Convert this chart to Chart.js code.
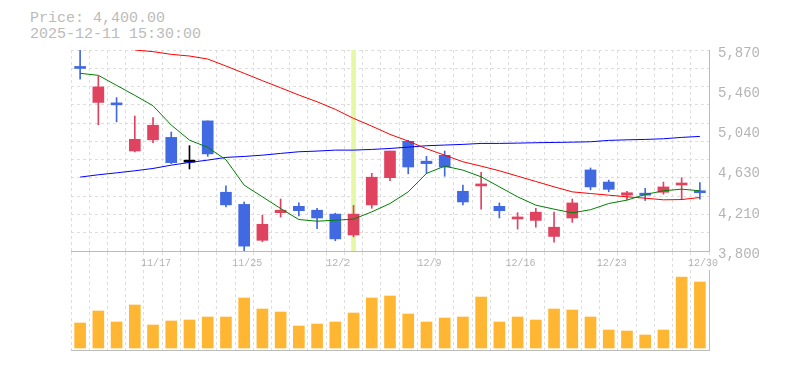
<!DOCTYPE html>
<html>
<head>
<meta charset="utf-8">
<script src="https://cdn.jsdelivr.net/npm/chart.js@4.4.1/dist/chart.umd.min.js"></script>
<style>
  html, body { margin: 0; padding: 0; background: #fff; }
  body { width: 785px; height: 370px; position: relative; overflow: hidden; }
  #info { position: absolute; left: 30px; top: 11px; font: 15px/15.5px "Liberation Mono", monospace; color: #bbb; white-space: pre; }
  #canvasPrice { position: absolute; left: 0; top: 0; }
  #canvasVol { position: absolute; left: 0; top: 270px; }
</style>
</head>
<body>
<div id="info">Price: 4,400.00
2025-12-11 15:30:00</div>
<canvas id="canvasPrice" width="785" height="272"></canvas>
<canvas id="canvasVol" width="785" height="100"></canvas>
<script>
// données du graphique
const dates = ['11/11','11/12','11/13','11/14','11/17','11/18','11/19','11/20','11/21','11/25',
  '11/26','11/27','11/28','12/1','12/2','12/3','12/4','12/5','12/8','12/9',
  '12/10','12/11','12/12','12/15','12/16','12/17','12/18','12/19','12/22','12/23',
  '12/24','12/25','12/26','12/29','12/30'];
const dateTicks = ['11/17','11/25','12/2','12/9','12/16','12/23','12/30'];
const priceTicks = [3800, 4210, 4630, 5040, 5460, 5870];

const open  = [5695,5330,5320,4830,4945,4970,4715,5140,4405,4280,3910,4195,4260,4220,4180,3965,4275,4555,4930,4725,4785,4415,4470,4260,4130,4115,3950,4140,4635,4510,4375,4390,4405,4480,4420];
const high  = [5870,5600,5380,5190,5175,5025,4885,5140,4470,4305,4170,4335,4295,4240,4190,4270,4600,4830,4940,4775,4830,4480,4610,4295,4195,4240,4200,4335,4655,4530,4415,4445,4510,4555,4505];
const low   = [5570,5100,5130,4820,4915,4700,4645,4775,4255,3800,3895,4150,4160,4030,3905,3945,4240,4525,4595,4600,4570,4275,4230,4140,4025,4045,3890,4095,4430,4410,4325,4320,4385,4330,4335];
const close = [5680,5490,5305,4950,5095,4710,4715,4800,4275,3850,4075,4220,4215,4140,3925,4180,4560,4830,4665,4700,4665,4305,4490,4215,4150,4200,4045,4295,4460,4435,4400,4375,4460,4500,4400];

const ma5  = [5630,5609,5506,5403,5296,5097,4942,4867,4740,4478,4358,4238,4124,4107,4117,4128,4203,4289,4409,4599,4674,4633,4564,4461,4358,4272,4231,4193,4225,4289,4324,4382,4420,4437,4420];
const ma25 = [null,null,null,5870,5853,5825,5808,5777,5705,5630,5554,5481,5406,5337,5259,5166,5086,5001,4932,4853,4787,4719,4674,4626,4571,4516,4461,4409,4392,4375,4358,4344,4327,4330,4351];
const ma75 = [4561,4585,4605,4626,4650,4684,4712,4736,4764,4774,4787,4805,4822,4829,4839,4839,4846,4856,4870,4884,4891,4898,4908,4908,4911,4915,4918,4921,4925,4939,4945,4949,4956,4970,4980];

// volume en milliers d'actions
const volume = [125,185,130,215,115,135,140,155,155,250,195,180,110,120,130,175,250,260,170,130,150,155,255,130,155,140,195,190,155,90,85,65,90,355,330];

const cursorIndex = 15;
const priceMin = 3800, priceMax = 5870;

const RED = '#e04360', BLUE = '#4169e1';
const GRID = '#dddddd', AXIS = '#bbbbbb', TEXT = '#b4b4b4';
const MONO = "'Liberation Mono', monospace";

const candleColors = dates.map((d, i) => close[i] > open[i] ? RED : (close[i] < open[i] ? BLUE : '#000000'));

const chartPrice = new Chart(document.getElementById('canvasPrice'), {
    type: 'bar',
    data: {
        labels: dates,
        datasets: [
            { type: 'line', label: 'MA5', data: ma5, borderColor: 'green', borderWidth: 1, pointRadius: 0, order: 0 },
            { type: 'line', label: 'MA25', data: ma25, borderColor: 'red', borderWidth: 1, pointRadius: 0, order: 0 },
            { type: 'line', label: 'MA75', data: ma75, borderColor: 'blue', borderWidth: 1, pointRadius: 0, order: 0 },
            { label: 'body', data: dates.map((d, i) => [open[i], close[i]]), backgroundColor: candleColors,
              barThickness: 11, minBarLength: 2, grouped: false, order: 1 },
            { label: 'wick', data: dates.map((d, i) => [low[i], high[i]]), backgroundColor: candleColors,
              barThickness: 1, grouped: false, order: 2 },
            { label: 'cursor', data: dates.map((d, i) => i === cursorIndex ? [priceMin, priceMax] : null),
              backgroundColor: '#e6f7a6', barThickness: 4, grouped: false, order: 3 }
        ]
    },
    options: {
        responsive: false,
        animation: false,
        events: [],
        layout: { padding: { left: 71, top: 50, right: 0, bottom: 0 } },
        plugins: { legend: { display: false }, tooltip: { enabled: false } },
        scales: {
            x: {
                offset: true,
                grid: { offset: true, color: GRID, tickLength: 20, tickColor: GRID, tickBorderDash: [3, 3] },
                border: { color: AXIS, dash: [3, 3] },
                ticks: {
                    autoSkip: false, maxRotation: 0, color: TEXT, padding: -14, labelOffset: 3,
                    font: { family: MONO, size: 10 },
                    callback: function (v) { return dateTicks.includes(dates[v]) ? dates[v] : ''; }
                },
                afterFit: s => { s.height = 21; }
            },
            yGrid: {
                position: 'right', min: priceMin, max: priceMax,
                ticks: { display: false, count: 12 },
                grid: { color: GRID, drawTicks: false },
                border: { display: false, dash: [3, 3] },
                afterFit: s => { s.width = 0; }
            },
            y: {
                position: 'right', min: priceMin, max: priceMax,
                afterBuildTicks: s => { s.ticks = priceTicks.map(v => ({ value: v })); },
                ticks: {
                    color: TEXT, padding: 9, labelOffset: 3,
                    font: { family: MONO, size: 14 },
                    callback: v => v.toLocaleString('en-US')
                },
                grid: { display: false, drawTicks: false },
                border: { color: AXIS },
                afterFit: s => { s.width = 76; }
            }
        }
    }
});

const chartVol = new Chart(document.getElementById('canvasVol'), {
    type: 'bar',
    data: {
        labels: dates,
        datasets: [{ label: 'Volume', data: volume, backgroundColor: '#ffb733', barThickness: 11 }]
    },
    options: {
        responsive: false,
        animation: false,
        events: [],
        layout: { padding: { left: 71, top: 0, right: 0, bottom: 20 } },
        plugins: { legend: { display: false }, tooltip: { enabled: false } },
        scales: {
            x: {
                offset: true,
                grid: { offset: true, color: GRID, drawTicks: false },
                border: { color: AXIS, dash: [3, 3] },
                ticks: { display: false },
                afterFit: s => { s.height = 0; }
            },
            y: {
                position: 'right', min: -10, max: 390,
                grid: { display: false, drawTicks: false },
                border: { color: AXIS },
                ticks: { display: false },
                afterFit: s => { s.width = 76; }
            }
        }
    }
});
</script>
</body>
</html>
